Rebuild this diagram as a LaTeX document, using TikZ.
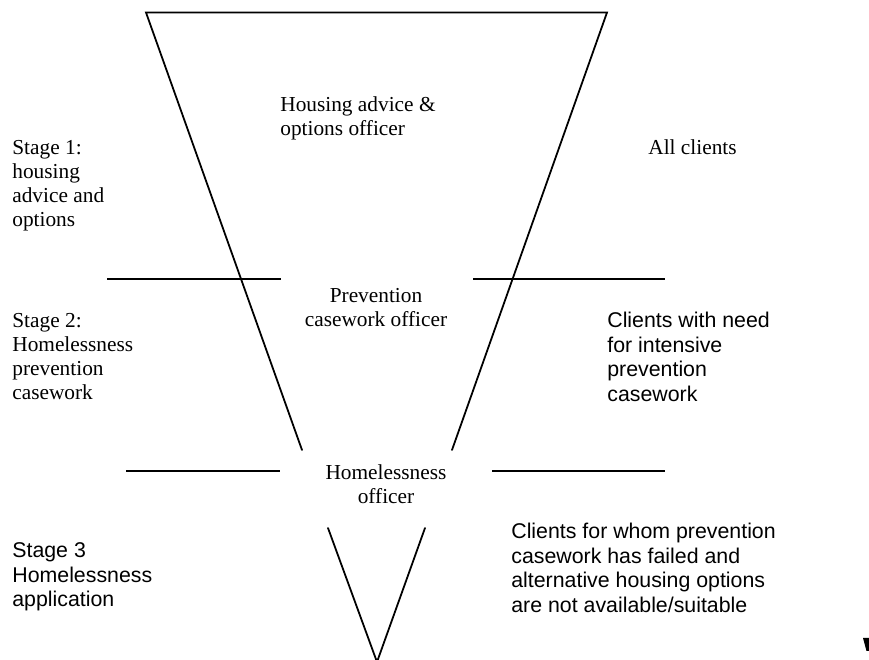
\documentclass[tikz,border=0pt]{standalone}
\usepackage{fontspec}
\setmainfont{Liberation Serif}
\newfontfamily\arialfont{Liberation Sans}
\tikzset{
  funnel/.style={line width=1pt, line cap=round},
  rule/.style={line width=1.1pt},
  serifnote/.style={inner sep=0pt, font=\fontsize{12pt}{13.5pt}\selectfont},
  sansnote/.style={inner sep=0pt, font=\fontsize{12pt}{13.7pt}\selectfont\arialfont},
}
\newcommand{\lblock}[1]{\begin{tabular}[t]{@{}l@{}}#1\end{tabular}}
\newcommand{\cblock}[1]{\begin{tabular}[t]{@{}c@{}}#1\end{tabular}}
\begin{document}
\begin{tikzpicture}[x=0.5625pt, y=-0.5625pt]
\useasboundingbox (0,0) rectangle (869,660);
% funnel coordinates
\coordinate (tl) at (146,12.5);
\coordinate (tr) at (607,12.5);
\coordinate (lb) at (302,450);
\coordinate (rb) at (452,450);
\coordinate (vl) at (328,528);
\coordinate (vr) at (425,528);
\coordinate (vb) at (377,662);
% stage rules
\coordinate (r1a) at (107,279);
\coordinate (r1b) at (281,279);
\coordinate (r1c) at (473,279);
\coordinate (r1d) at (665,279);
\coordinate (r2a) at (126,471);
\coordinate (r2b) at (280,471);
\coordinate (r2c) at (492,471);
\coordinate (r2d) at (665,471);

\draw[funnel] (lb) -- (tl) -- (tr) -- (rb);
\draw[funnel] (vl) -- (vb) -- (vr);
\draw[rule] (r1a) -- (r1b);
\draw[rule] (r1c) -- (r1d);
\draw[rule] (r2a) -- (r2b);
\draw[rule] (r2c) -- (r2d);

% texts
\node[serifnote, anchor=base west] (housing) at (280,112)
  {\lblock{Housing advice \&\\options officer}};
\node[serifnote, anchor=base west] (stage1) at (12,155)
  {\lblock{Stage 1:\\housing\\advice and\\options}};
\node[serifnote, anchor=base west] (allclients) at (648,155) {All clients};
\node[serifnote, anchor=base] (prevention) at (376,303)
  {\cblock{Prevention\\casework officer}};
\node[serifnote, anchor=base west] (stage2) at (12,328)
  {\lblock{Stage 2:\\Homelessness\\prevention\\casework}};
\node[sansnote, anchor=base west] (needclients) at (607,328)
  {\lblock{Clients with need\\for intensive\\prevention\\casework}};
\node[serifnote, anchor=base] (homeofficer) at (386,480)
  {\cblock{Homelessness\\officer}};
\node[sansnote, anchor=base west] (stage3) at (12,558)
  {\lblock{Stage 3\\Homelessness\\application}};
\node[sansnote, anchor=base west] (failedclients) at (511,539)
  {\lblock{Clients for whom prevention\\casework has failed and\\alternative housing options\\are not available/suitable}};

% cut-off mark at bottom right
\fill (863,638) -- (870,638) -- (870,651) -- (866.5,651) -- cycle;
\end{tikzpicture}
\end{document}
